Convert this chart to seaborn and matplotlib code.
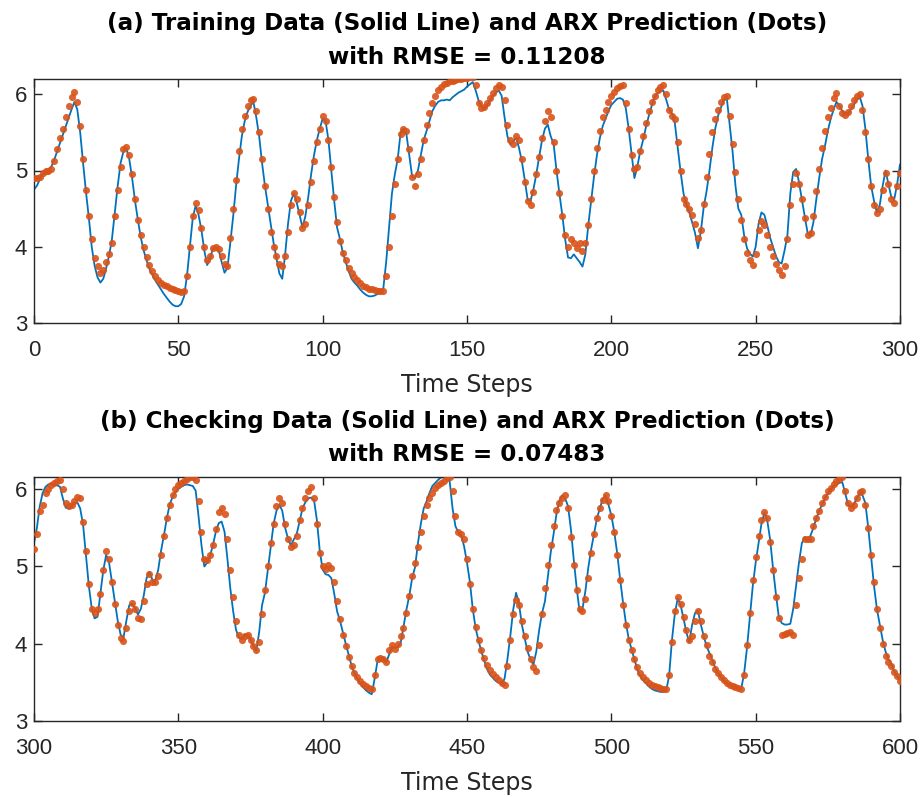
import numpy as np
import pandas as pd
import matplotlib
matplotlib.use("Agg")
import matplotlib.pyplot as plt
import seaborn as sns

# ---------------- data ----------------
train_steps = list(range(0, 301))
train_data = [
4.75,4.80,4.88,4.95,4.98,5.00,5.05,5.14,5.25,5.36,5.47,5.58,5.69,5.80,5.90,5.80,5.50,5.10,4.72,4.38,
4.00,3.75,3.60,3.53,3.58,3.72,3.88,4.10,4.45,4.80,5.10,5.25,5.29,5.15,4.90,4.60,4.35,4.12,3.95,3.82,
3.71,3.63,3.56,3.50,3.44,3.38,3.33,3.28,3.24,3.22,3.22,3.25,3.35,3.62,4.00,4.38,4.54,4.42,4.22,3.95,
3.76,3.85,3.98,4.00,3.95,3.80,3.66,3.72,4.05,4.40,4.80,5.15,5.45,5.65,5.77,5.85,5.90,5.70,5.45,5.10,
4.80,4.55,4.30,4.05,3.85,3.65,3.58,3.90,4.30,4.60,4.70,4.58,4.42,4.25,4.40,4.65,4.95,5.20,5.40,5.55,
5.68,5.65,5.40,5.00,4.60,4.25,4.10,3.92,3.80,3.68,3.58,3.53,3.49,3.44,3.40,3.37,3.35,3.35,3.36,3.38,
3.41,3.45,3.80,4.25,4.70,4.95,5.15,5.50,5.55,5.48,5.20,4.92,4.90,5.00,5.20,5.40,5.52,5.65,5.78,5.85,
5.90,5.92,5.92,5.93,5.92,5.96,5.99,6.02,6.04,6.06,6.10,6.13,6.16,6.05,5.92,5.84,5.81,5.85,5.92,5.98,
6.02,6.05,5.98,5.70,5.45,5.34,5.38,5.43,5.30,5.12,4.88,4.62,4.60,4.75,4.95,5.18,5.40,5.55,5.60,5.45,
5.35,5.00,4.70,4.42,4.10,3.86,3.85,3.90,3.85,3.80,3.74,3.90,4.28,4.60,4.92,5.20,5.42,5.58,5.68,5.78,
5.86,5.90,5.94,5.95,5.93,5.82,5.55,5.22,4.90,5.05,5.25,5.40,5.57,5.72,5.85,5.96,6.01,6.04,6.05,5.93,
5.80,5.75,5.62,5.30,4.98,4.70,4.55,4.45,4.32,4.18,3.98,4.20,4.52,4.73,5.00,5.30,5.55,5.72,5.83,5.93,
5.95,5.60,5.25,4.80,4.50,4.42,4.15,3.98,3.91,3.87,4.00,4.30,4.45,4.42,4.28,4.12,4.00,3.88,3.80,3.78,
3.95,4.15,4.70,4.98,5.02,4.85,4.62,4.40,4.18,4.15,4.32,4.62,4.90,5.15,5.32,5.52,5.68,5.80,5.90,5.85,
5.78,5.73,5.75,5.80,5.86,5.93,5.97,5.85,5.55,5.15,4.80,4.60,4.45,4.55,4.80,5.00,4.82,4.65,4.62,4.82,
5.08]
train_pred = [
4.90,4.90,4.92,4.97,5.00,5.00,5.02,5.12,5.28,5.42,5.55,5.70,5.85,5.97,6.03,5.90,5.58,5.15,4.75,4.40,
4.10,3.85,3.75,3.65,3.70,3.80,3.90,4.05,4.40,4.75,5.05,5.28,5.31,5.20,4.95,4.62,4.35,4.15,4.00,3.86,
3.76,3.68,3.62,3.57,3.53,3.50,3.48,3.46,3.44,3.43,3.42,3.41,3.42,3.62,4.00,4.40,4.57,4.48,4.25,4.00,
3.83,3.88,3.98,4.00,3.97,3.88,3.78,3.75,4.12,4.50,4.88,5.25,5.55,5.72,5.85,5.92,5.94,5.78,5.50,5.15,
4.80,4.50,4.20,4.00,3.88,3.78,3.75,3.88,4.20,4.55,4.70,4.62,4.45,4.25,4.30,4.55,4.85,5.12,5.38,5.55,
5.72,5.65,5.40,5.05,4.65,4.32,4.08,3.92,3.82,3.72,3.65,3.60,3.56,3.52,3.49,3.47,3.45,3.44,3.43,3.42,
3.42,3.42,3.62,4.00,4.40,4.82,5.15,5.48,5.55,5.52,5.28,4.92,4.80,4.95,5.15,5.40,5.60,5.75,5.88,5.98,
6.05,6.10,6.13,6.15,6.17,6.18,6.19,6.20,6.20,6.21,6.21,6.22,6.22,6.12,5.88,5.82,5.83,5.88,5.95,6.02,
6.08,6.12,6.10,5.92,5.60,5.40,5.35,5.45,5.40,5.15,4.85,4.60,4.55,4.72,4.95,5.18,5.42,5.65,5.78,5.70,
5.38,5.00,4.70,4.40,4.15,4.00,4.10,4.05,3.98,4.05,3.95,4.05,4.28,4.62,5.00,5.30,5.52,5.70,5.80,5.90,
5.98,6.03,6.08,6.11,6.12,5.88,5.55,5.20,5.02,5.05,5.25,5.45,5.62,5.78,5.90,5.98,6.05,6.10,6.12,6.00,
5.80,5.72,5.68,5.38,5.00,4.62,4.56,4.50,4.42,4.30,4.12,4.22,4.56,4.92,5.22,5.50,5.68,5.80,5.90,5.97,
5.98,5.72,5.35,4.98,4.62,4.35,4.10,3.92,3.82,3.76,3.90,4.22,4.34,4.28,4.15,4.00,3.88,3.78,3.70,3.63,
3.75,4.10,4.55,4.82,4.97,4.82,4.62,4.38,4.15,4.18,4.40,4.73,5.02,5.30,5.52,5.70,5.82,5.95,6.02,5.85,
5.75,5.73,5.77,5.85,5.92,5.98,6.00,5.80,5.50,5.15,4.80,4.55,4.44,4.50,4.75,4.97,4.82,4.62,4.58,4.80,
4.97]

check_steps = list(range(300, 601))
check_data = [
5.30,5.50,5.78,5.95,6.03,6.06,6.06,6.06,6.05,6.03,5.88,5.76,5.75,5.78,5.82,5.83,5.75,5.54,5.15,4.75,
4.46,4.33,4.35,4.65,4.95,5.15,5.05,4.80,4.55,4.30,4.12,4.08,4.30,4.50,4.52,4.46,4.38,4.45,4.62,4.85,
4.93,4.83,4.82,4.95,5.20,5.40,5.62,5.80,5.90,5.96,6.00,6.03,6.05,6.06,6.05,6.04,5.98,5.65,5.28,5.00,
5.05,5.14,5.28,5.45,5.56,5.58,5.45,5.10,4.72,4.42,4.18,4.08,4.06,4.12,4.12,4.06,3.98,3.91,4.15,4.50,
4.66,4.95,5.25,5.55,5.72,5.80,5.72,5.50,5.36,5.27,5.35,5.42,5.58,5.75,5.83,5.88,5.89,5.86,5.60,5.20,
4.96,4.90,4.89,4.85,4.65,4.42,4.30,4.15,4.00,3.86,3.72,3.62,3.55,3.49,3.44,3.40,3.37,3.35,3.55,3.78,
3.82,3.82,3.76,3.86,3.96,3.95,3.96,4.01,4.22,4.44,4.62,4.85,4.99,5.30,5.55,5.75,5.84,5.95,6.04,6.08,
6.12,6.15,6.16,6.16,6.10,5.75,5.52,5.44,5.40,5.26,5.05,4.80,4.45,4.20,4.04,3.90,3.78,3.67,3.60,3.56,
3.52,3.50,3.48,3.55,3.80,4.10,4.44,4.66,4.52,4.25,4.07,3.90,3.80,3.73,3.90,4.18,4.40,4.55,4.86,5.18,
5.42,5.68,5.85,5.92,5.88,5.78,5.48,5.08,4.72,4.42,4.45,4.68,4.98,5.22,5.42,5.62,5.75,5.87,5.92,5.80,
5.66,5.45,5.18,4.85,4.55,4.28,4.07,3.93,3.80,3.67,3.58,3.53,3.49,3.45,3.42,3.40,3.39,3.38,3.38,3.40,
3.58,4.05,4.39,4.59,4.50,4.33,4.15,4.02,4.25,4.40,4.43,4.25,4.10,3.97,3.88,3.79,3.69,3.62,3.57,3.52,
3.49,3.47,3.45,3.43,3.42,3.42,3.62,3.95,4.35,4.75,5.05,5.30,5.55,5.69,5.60,5.35,4.98,4.65,4.35,4.27,
4.25,4.25,4.26,4.45,4.75,5.05,5.30,5.38,5.33,5.40,5.50,5.62,5.72,5.80,5.88,5.94,5.99,6.04,6.06,6.08,
6.09,5.95,5.80,5.77,5.80,5.88,5.95,5.92,5.82,5.50,5.12,4.75,4.45,4.25,4.05,3.90,3.80,3.74,3.65,3.58,
3.55]
check_pred = [
5.22,5.42,5.72,5.80,5.95,6.00,6.05,6.08,6.10,6.12,6.00,5.82,5.78,5.80,5.85,5.90,5.88,5.58,5.20,4.78,
4.45,4.40,4.45,4.65,4.95,5.20,5.10,4.80,4.52,4.25,4.08,4.04,4.20,4.42,4.53,4.45,4.33,4.32,4.55,4.78,
4.90,4.80,4.80,4.88,5.15,5.40,5.62,5.80,5.92,6.00,6.05,6.08,6.11,6.13,6.15,6.16,6.12,5.85,5.45,5.10,
5.08,5.15,5.28,5.48,5.70,5.76,5.68,5.35,4.95,4.60,4.30,4.12,4.05,4.10,4.12,4.05,3.97,3.92,4.02,4.38,
4.70,5.00,5.30,5.55,5.78,5.88,5.82,5.55,5.35,5.25,5.28,5.40,5.60,5.75,5.88,5.98,6.03,5.88,5.55,5.18,
5.00,4.97,5.02,4.98,4.80,4.55,4.32,4.12,3.97,3.83,3.72,3.63,3.57,3.52,3.48,3.45,3.43,3.42,3.60,3.80,
3.82,3.80,3.77,3.92,3.98,3.93,4.00,4.10,4.20,4.40,4.62,4.88,5.05,5.25,5.45,5.65,5.80,5.88,5.95,6.01,
6.05,6.08,6.11,6.14,6.15,5.98,5.65,5.45,5.42,5.35,5.10,4.78,4.45,4.22,4.05,3.92,3.82,3.73,3.66,3.61,
3.57,3.53,3.50,3.47,3.72,4.05,4.38,4.57,4.50,4.30,4.10,3.95,3.80,3.70,3.65,3.98,4.38,4.72,5.02,5.28,
5.52,5.73,5.82,5.88,5.92,5.75,5.38,5.02,4.70,4.45,4.42,4.58,4.85,5.18,5.42,5.62,5.75,5.86,5.92,5.85,
5.65,5.45,5.15,4.82,4.50,4.25,4.05,3.92,3.80,3.70,3.63,3.57,3.53,3.50,3.47,3.45,3.44,3.43,3.42,3.42,
3.60,4.02,4.42,4.60,4.52,4.35,4.18,4.05,4.10,4.30,4.42,4.30,4.10,3.98,3.85,3.76,3.68,3.62,3.57,3.53,
3.50,3.47,3.45,3.44,3.43,3.42,3.60,3.98,4.40,4.82,5.12,5.40,5.60,5.70,5.62,5.32,4.95,4.60,4.33,4.12,
4.13,4.14,4.15,4.12,4.50,4.85,5.10,5.35,5.35,5.35,5.52,5.62,5.72,5.82,5.90,5.97,6.02,6.06,6.10,6.13,
6.16,5.98,5.82,5.76,5.80,5.88,5.96,5.97,5.80,5.50,5.15,4.80,4.45,4.20,4.00,3.85,3.77,3.71,3.64,3.58,
3.52]

titles = ["(a) Training Data (Solid Line) and ARX Prediction (Dots)\nwith RMSE = 0.11208",
          "(b) Checking Data (Solid Line) and ARX Prediction (Dots)\nwith RMSE = 0.07483"]
x_label = "Time Steps"
y_ticks = [3, 4, 5, 6]
xticks_a = [0, 50, 100, 150, 200, 250, 300]
xticks_b = [300, 350, 400, 450, 500, 550, 600]

# ---------------- style ----------------
sns.set_theme(style="white")
plt.rcParams['font.family'] = ['Liberation Sans', 'DejaVu Sans']
LINE_C = "#0072BD"
DOT_C = "#D95319"
AX_C = "#262626"

fig = plt.figure(figsize=(9.24, 7.97), dpi=100)
ax_a = fig.add_axes([34/924, 1 - 323/797, 866/924, 244/797])
ax_b = fig.add_axes([34/924, 1 - 721.3/797, 866/924, 244.6/797])

panels = [
    (ax_a, train_steps, train_data, train_pred, titles[0], xticks_a, (0, 300), (3, 6.2)),
    (ax_b, check_steps, check_data, check_pred, titles[1], xticks_b, (300, 600), (3, 6.16)),
]

for ax, steps, data, pred, title, xt, xl, yl in panels:
    df = pd.DataFrame({"step": steps, "data": data, "pred": pred})
    sns.lineplot(data=df, x="step", y="data", ax=ax, color=LINE_C, linewidth=1.3, zorder=2)
    sns.scatterplot(data=df, x="step", y="pred", ax=ax, color=DOT_C, s=26, linewidth=0,
                    alpha=0.9, zorder=3, clip_on=True)
    ax.set_xlim(*xl)
    ax.set_ylim(*yl)
    ax.set_xticks(xt)
    ax.set_yticks(y_ticks)
    ax.set_xlabel(x_label, fontsize=17, color=AX_C, labelpad=9,
                  family=['DejaVu Sans'])
    ax.set_ylabel("")
    ax.set_title(title, fontsize=16.6, fontweight="bold", color="black", pad=11,
                 linespacing=1.6, family=['DejaVu Sans'])
    ax.tick_params(direction="in", length=6, width=1, colors=AX_C, labelsize=16,
                   top=True, right=True, left=True, bottom=True)
    ax.tick_params(axis="x", pad=12)
    ax.tick_params(axis="y", pad=5)
    for sp in ax.spines.values():
        sp.set_visible(True)
        sp.set_color(AX_C)
        sp.set_linewidth(1.0)
    ax.grid(False)

fig.savefig("out.png", dpi=100)
